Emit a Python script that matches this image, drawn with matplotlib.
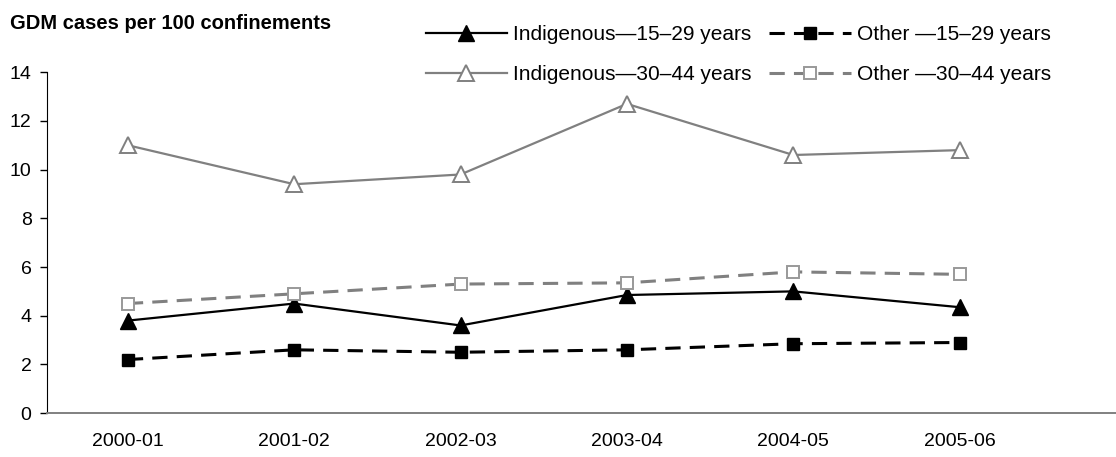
import matplotlib
matplotlib.use("Agg")
import matplotlib.pyplot as plt

# --- data ---
years = ["2000-01", "2001-02", "2002-03", "2003-04", "2004-05", "2005-06"]
indig_15_29 = [3.8, 4.5, 3.6, 4.85, 5.0, 4.35]
other_15_29 = [2.2, 2.6, 2.5, 2.6, 2.85, 2.9]
indig_30_44 = [11.0, 9.4, 9.8, 12.7, 10.6, 10.8]
other_30_44 = [4.5, 4.9, 5.3, 5.35, 5.8, 5.7]
y_ticks = [0, 2, 4, 6, 8, 10, 12, 14]

plt.rcParams["font.family"] = ["Liberation Sans", "DejaVu Sans"]

fig = plt.figure(figsize=(11.16, 4.57), dpi=100)
ax = fig.add_axes([0.042, 0.096, 0.958, 0.746])

x = list(range(len(years)))
grey = "#808080"

l1, = ax.plot(x, indig_15_29, color="black", lw=1.6, marker="^", ms=11,
              mfc="black", mec="black", label="Indigenous\u201415\u201329 years")
l2, = ax.plot(x, other_15_29, color="black", lw=2.2, dashes=(5, 3), marker="s", ms=8.5,
              mfc="black", mec="black", label="Other \u201415\u201329 years")
l3, = ax.plot(x, indig_30_44, color=grey, lw=1.6, marker="^", ms=11,
              mfc="white", mec=grey, mew=1.4, label="Indigenous\u201430\u201344 years")
l4, = ax.plot(x, other_30_44, color=grey, lw=2.2, dashes=(5, 3), marker="s", ms=8.5,
              mfc="white", mec="#999999", mew=1.4, label="Other \u201430\u201344 years")

ax.set_xlim(-0.487, 5.94)
ax.set_ylim(0, 14)
ax.set_yticks(y_ticks)
ax.set_xticks(x)
ax.set_xticklabels(years)
ax.tick_params(axis="x", length=0, pad=14, labelsize=14)
ax.tick_params(axis="y", length=5, width=1, direction="out", labelsize=14, pad=6)

for s in ["top", "right"]:
    ax.spines[s].set_visible(False)
ax.spines["left"].set_color("black")
ax.spines["bottom"].set_color(grey)
ax.spines["bottom"].set_linewidth(1.4)

fig.text(0.009, 0.948, "GDM cases per 100 confinements", fontsize=14.5,
         fontweight="bold", ha="left", va="center")

fig.legend(handles=[l1, l3, l2, l4], ncol=2, loc="upper left",
           bbox_to_anchor=(0.372, 0.968), frameon=False, fontsize=15,
           handlelength=3.9, handletextpad=0.3, columnspacing=0.85,
           labelspacing=1.0, borderpad=0)

fig.savefig("out.png", dpi=100)
